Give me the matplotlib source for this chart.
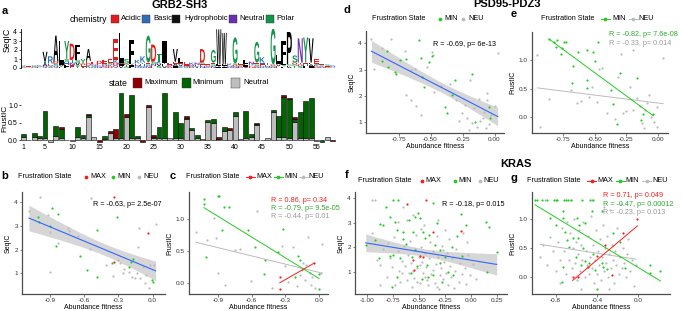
import numpy as np
import matplotlib
matplotlib.use('Agg')
import matplotlib.pyplot as plt
from matplotlib.textpath import TextPath
from matplotlib.patches import PathPatch, Rectangle
from matplotlib.font_manager import FontProperties
from matplotlib.lines import Line2D
import matplotlib.transforms as mtransforms

plt.rcParams['font.family'] = ['Liberation Sans', 'DejaVu Sans']

# ---------------- data: panel a ----------------
logo_top = "GESKVRALYDFYAEDEEELSFKKGDTIEVLEKNDEGWWKGELNGKTGLFPSNYVEESK"
logo_total = [0.3, 0.2, 0.3, 0.3, 1.8, 1.3, 3.6, 3.0, 3.0, 2.7,
              2.6, 1.0, 2.1, 0.7, 0.8, 0.9, 1.0, 3.2, 3.9, 1.0,
              3.1, 0.9, 1.3, 3.6, 2.6, 1.6, 3.0, 0.6, 2.1, 1.1,
              0.7, 0.6, 0.6, 2.1, 0.5, 2.0, 4.3, 3.9, 0.5, 3.4,
              0.6, 0.9, 0.7, 2.9, 1.2, 0.6, 4.4, 1.4, 3.0, 4.0,
              1.4, 3.3, 3.4, 3.3, 1.0, 0.5, 0.4, 0.3]
logo_top_h = [0.1, 0.08, 0.1, 0.1, 1.1, 0.8, 2.9, 2.5, 2.0, 1.8,
              1.7, 0.5, 1.3, 0.3, 0.35, 0.4, 0.45, 2.3, 3.3, 0.5,
              2.6, 0.4, 0.7, 3.0, 1.9, 0.9, 2.4, 0.25, 1.4, 0.5,
              0.3, 0.25, 0.25, 1.5, 0.2, 1.4, 3.9, 3.5, 0.2, 2.9,
              0.25, 0.45, 0.3, 2.3, 0.6, 0.25, 4.0, 0.8, 2.5, 3.6,
              0.8, 2.7, 2.8, 2.7, 0.5, 0.2, 0.15, 0.1]
logo_sub = ["SDK", "TRE", "NGD", "EKS", "QAT", "SQE", "QSD", "FVI", "FHS", "ENT",
            "YVS", "TED", "KDE", "RSN", "NKE", "QDR", "DKS", "QDK", "VIM", "GTD",
            "LIY", "RNE", "RHT", "NSE", "ENS", "SVK", "VLT", "DKN", "IAE", "KVE",
            "SNE", "DRN", "TKE", "NES", "KSD", "NSE", "FYL", "FYL", "RNE", "NDS",
            "DKS", "VIE", "DEK", "DSE", "REH", "SNE", "NSD", "EVI", "LYI", "ALS",
            "TGD", "SDT", "FHE", "IAL", "DKS", "NKS", "DGE", "REN"]
frust_neu = [0.10, 0.01, 0.10, 0.05, 0.05, -0.06, 0.12, 0.07, 0.01, -0.02,
             0.10, 0.05, 0.67, 0.08, 0.0, 0.03, 0.19, 0.05, 0.05, 0.67,
             0.05, 0.06, 0.0, 0.95, 0.05, 0.05, 0.05, 0.05, 0.05, 0.05,
             0.59, 0.29, 0.05, 0.02, 0.52, 0.48, 0.04, 0.26, 0.28, 0.70,
             0.02, 0.05, 0.10, 0.43, 0.01, 0.06, 0.79, 0.10, 0.10, 0.05,
             0.52, 0.05, 0.05, 0.05, -0.02, 0.0, 0.10, 0.0]
frust_min = [0.06, 0.0, 0.09, 0.07, 0.78, 0.0, 0.29, 0.24, 0.0, 0.0,
             0.26, 0.08, 0.04, 0.0, 0.0, 0.08, 0.0, 0.0, 1.28, 0.0,
             1.23, 0.06, 0.0, 0.0, 0.05, 0.33, 1.28, 0.0, 0.76, 0.43,
             0.04, 0.06, 0.09, 0.0, 0.05, 0.12, 0.0, 0.12, 0.0, 0.09,
             0.0, 0.78, 0.06, 0.03, 0.0, 0.0, 0.07, 0.60, 1.14, 1.11,
             0.08, 0.76, 1.06, 1.16, 0.0, -0.06, 0.0, 0.0]
frust_max = [0.0, 0.0, 0.0, 0.0, 0.0, 0.0, 0.0, 0.07, 0.0, 0.0,
             0.0, 0.0, 0.03, 0.0, -0.05, 0.0, 0.08, 0.26, 0.0, 0.06,
             0.0, 0.0, -0.07, 0.05, 0.05, 0.0, 0.0, 0.0, 0.0, 0.0,
             0.06, 0.0, 0.0, 0.0, 0.0, 0.0, 0.04, 0.0, 0.05, 0.0,
             0.0, 0.0, 0.0, 0.04, 0.0, 0.0, 0.0, 0.0, 0.06, 0.04,
             0.05, 0.0, 0.0, 0.0, 0.0, 0.0, 0.0, -0.02]
pos_ticks = [1, 5, 10, 15, 20, 25, 30, 35, 40, 45, 50, 55]

# ---------------- data: panel b (GRB2 SeqIC) ----------------
b_neu_x = [-1.089, -0.994, -0.921, -0.9, -0.906, -0.832, -0.744, -0.738, -0.655, -0.546, -0.552,
           -0.41, -0.351, -0.301, -0.286, -0.257, -0.204, -0.183, -0.153, -0.139, -0.124, -0.109,
           -0.115, -0.08, -0.065, -0.035, -0.021, 0.015, 0.027, -0.25, -0.06]
b_neu_y = [3.61, 4.24, 3.46, 2.76, 1.07, 2.27, 2.90, 2.80, 2.58, 4.17, 2.03,
           1.35, 0.89, 1.56, 1.42, 1.00, 1.07, 0.86, 0.79, 1.00, 2.13, 0.79,
           2.90, 1.28, 0.58, 0.37, 1.35, 1.35, 3.08, 1.20, 0.95]
b_min_x = [-1.009, -1.003, -0.885, -0.9, -0.832, -0.853, -0.64, -0.575, -0.487, -0.487, -0.316,
           -0.36, -0.204, -0.174, -0.192, -0.006, 0.0]
b_min_y = [3.37, 3.18, 3.75, 3.0, 3.49, 2.17, 1.73, 1.14, 2.83, 0.86, 3.39,
           1.42, 1.25, 1.59, 1.49, 0.72, 0.65]
b_max_x = [-0.339, -0.044, -0.339]
b_max_y = [4.24, 2.72, 1.49]

# ---------------- data: panel c (GRB2 FrustIC) ----------------
c_neu_x = [-1.1, -1.003, -0.935, -0.92, -0.9, -0.84, -0.549, -0.751, -0.706, -0.608, -0.424, -0.3,
           -0.232, -0.2, -0.127, -0.112, -0.098, -0.083, -0.074, -0.062, -0.038, 0.021, 0.027,
           -0.15, -0.17, -0.14, -0.33, -0.28]
c_neu_y = [0.80, 0.67, 1.01, 0.70, 0.16, -0.03, 1.12, 0.51, 0.53, 0.04, -0.08, 0.26,
           0.57, -0.05, 0.05, 0.28, 0.72, 0.16, -0.03, 0.10, -0.08, 0.16, 0.61,
           0.20, 0.12, 0.32, 0.58, 0.02]
c_min_x = [-1.027, -1.027, -0.9, -0.893, -0.849, -1.012, -0.869, -0.80, -0.638, -0.573, -0.484,
           -0.492, -0.32, -0.365, -0.192, -0.172, -0.21, 0.0, 0.0]
c_min_y = [1.31, 1.23, 1.35, 1.35, 1.19, 0.41, 0.82, 1.19, 0.83, 0.57, 0.36,
           0.14, 0.84, 0.48, 0.42, 0.36, 0.10, 0.14, -0.09]
c_max_x = [-0.35, -0.35, -0.045]
c_max_y = [0.10, -0.09, 0.31]

# ---------------- data: panel d (PSD95 SeqIC) ----------------
d_neu_x = [-0.962, -0.81, -0.944, -0.882, -0.70, -0.656, -0.624, -0.694, -0.656, -0.616, -0.576,
           -0.528, -0.49, -0.482, -0.47, -0.416, -0.19, -0.256, -0.23, -0.216, -0.176, -0.136,
           -0.11, -0.082, -0.07, -0.056, -0.03, 0.024, -0.3, -0.28, -0.16, -0.12, -0.09, -0.04,
           0.0, -0.35, -0.2, -0.06]
d_neu_y = [4.15, 4.16, 3.01, 3.81, 3.72, 2.98, 3.02, 2.03, 1.84, 1.62, 1.27,
           3.11, 3.68, 3.56, 2.16, 2.38, 2.60, 1.34, 1.65, 1.15, 0.96, 0.83,
           1.06, 1.40, 0.77, 1.84, 1.27, 3.62, 1.85, 1.05, 1.55, 1.90, 1.15, 0.95,
           1.60, 2.45, 0.70, 2.10]
d_min_x = [-0.83, -0.842, -0.882, -0.776, -0.77, -0.736, -0.696, -0.59, -0.576, -0.568, -0.554,
           -0.51, -0.49, -0.39, -0.368, -0.336, -0.31, -0.176, -0.042, -0.038, -0.15]
d_min_y = [3.11, 3.71, 3.33, 2.92, 2.85, 3.36, 3.39, 4.13, 3.43, 2.73, 2.35,
           3.30, 3.53, 1.59, 1.34, 2.03, 2.60, 2.83, 1.57, 1.15, 1.02]

# ---------------- data: panel e (PSD95 FrustIC) ----------------
e_min_x = [-0.865, -0.825, -0.804, -0.81, -0.764, -0.746, -0.73, -0.772, -0.677, -0.632, -0.566,
           -0.513, -0.50, -0.478, -0.561, -0.682, -0.566, -0.37, -0.359, -0.327, -0.301, -0.169,
           -0.137, -0.116, -0.037]
e_min_y = [1.376, 1.33, 1.36, 1.245, 1.217, 1.316, 1.316, 1.116, 0.905, 1.146, 1.175,
           1.146, 0.993, 1.323, 0.658, 0.60, 0.511, 0.48, 0.235, -0.118, 0.776, 0.688,
           -0.048, 0.058, 0.058]
e_neu_x = [-0.958, -0.936, -0.865, -0.688, -0.645, -0.613, -0.526, -0.486, -0.468, -0.447, -0.407,
           -0.341, -0.315, -0.296, -0.275, -0.222, -0.20, -0.196, -0.164, -0.143, -0.129, -0.111,
           -0.103, -0.069, -0.058, -0.031, -0.01, -0.005, 0.042, -0.25, -0.09, -0.55]
e_neu_y = [1.099, -0.166, 0.323, 0.482, 0.258, 0.293, 0.529, 0.264, 0.847, 0.86, 0.07,
           -0.035, 0.705, 1.116, 0.07, 0.529, 0.129, 1.187, 0.335, 0.199, -0.106, -0.194,
           0.129, 0.393, 0.0, -0.078, 0.176, -0.176, 1.04, 0.12, 0.25, 0.35]

# ---------------- data: panel f (KRAS SeqIC) ----------------
f_neu_x = [-0.955, -0.923, -0.65, -0.618, -0.795, -0.907, -0.875, -0.81, -0.73, -0.666, -0.618,
           -0.57, -0.522, -0.49, -0.442, -0.41, -0.362, -0.33, -0.30, -0.266, -0.314, -0.25,
           -0.041, -0.85, -0.78, -0.76, -0.74, -0.70, -0.69, -0.68, -0.66, -0.64, -0.63, -0.61,
           -0.60, -0.59, -0.58, -0.56, -0.55, -0.54, -0.53, -0.52, -0.50, -0.49, -0.48, -0.47,
           -0.46, -0.45, -0.44, -0.43, -0.42, -0.40, -0.39, -0.38, -0.37, -0.35, -0.34, -0.33,
           -0.32, -0.31, -0.29, -0.28, -0.27, -0.26, -0.24, -0.23, -0.22, -0.21, -0.20, -0.19,
           -0.18, -0.16, -0.15, -0.14, -0.12, -0.11, -0.09, -0.08, -0.06, -0.05, -0.03, -0.01,
           0.02, 0.05, -0.70, -0.56, -0.48, -0.87, -0.95]
f_neu_y = [3.93, 3.93, 3.66, 3.11, 2.16, 1.48, 1.28, 0.80, 0.46, 0.93, 0.66,
           0.39, 0.60, 1.27, 0.80, 0.46, 1.07, 0.39, 0.87, 1.89, 3.11, 2.70,
           2.23, 1.95, 1.55, 1.20, 2.40, 1.85, 1.05, 0.60, 1.45, 2.05, 1.25, 1.70,
           0.95, 2.25, 1.35, 1.05, 0.75, 1.95, 2.50, 1.15, 1.60, 0.55, 2.00, 1.40,
           0.95, 2.90, 1.75, 1.20, 0.65, 1.55, 2.20, 0.90, 1.85, 0.55, 1.30, 2.45,
           1.60, 0.30, 1.15, 2.05, 0.70, 1.40, 0.95, 1.75, 0.45, 2.35, 1.25, 0.80,
           1.55, 0.35, 1.05, 1.95, 0.60, 1.35, 0.90, 2.60, 1.15, 0.50, 1.70, 0.85,
           1.30, 0.70, 3.05, 3.30, 2.75, 0.45, 2.60]
f_min_x = [-1.012, -0.923, -0.875, -0.843, -0.82, -0.779, -0.747, -0.699, -0.731, -0.715, -0.657,
           -0.65, -0.779, -0.75, -0.715, -0.763, -0.555, -0.538, -0.57, -0.507, -0.49, -0.458,
           -0.442, -0.426, -0.362, -0.346, -0.30, -0.30, -0.362, -0.41, 0.144, 0.176, 0.247,
           0.157, -0.09, -0.184, -0.60, -0.62, -0.52, -0.47, -0.25, -0.22, -0.13, -0.10, -0.68,
           -0.58, -0.40, -0.28, -0.05, -0.88, -0.54, -0.33, -0.17]
f_min_y = [2.09, 2.30, 2.95, 2.91, 3.63, 3.25, 3.93, 3.93, 3.05, 2.71, 2.64,
           2.33, 1.64, 1.70, 0.80, 0.39, 2.64, 1.89, 1.61, 3.39, 3.18, 2.64,
           2.36, 1.27, 3.80, 2.09, 1.89, 1.34, 0.87, 0.80, 3.05, 2.82, 1.80,
           1.00, 1.64, 2.00, 3.10, 2.15, 1.25, 0.72, 1.60, 1.00, 2.45, 3.35, 1.55,
           0.95, 2.50, 0.60, 2.90, 1.58, 3.25, 3.00, 0.85]
f_max_x = [-0.618, -0.433, -0.362, -0.555, -0.55, -0.49, -0.458, -0.10]
f_max_y = [3.77, 3.93, 2.64, 1.48, 1.07, 1.64, 1.61, 2.65]

# ---------------- data: panel g (KRAS FrustIC) ----------------
g_neu_x = [-0.855, -0.887, -0.758, -0.95, -0.92, -0.83, -0.80, -0.78, -0.76, -0.74, -0.72,
           -0.70, -0.69, -0.67, -0.66, -0.64, -0.63, -0.62, -0.61, -0.60, -0.59, -0.58,
           -0.57, -0.56, -0.55, -0.54, -0.53, -0.52, -0.51, -0.50, -0.49, -0.48, -0.47,
           -0.46, -0.45, -0.44, -0.43, -0.42, -0.41, -0.40, -0.39, -0.38, -0.37, -0.36,
           -0.35, -0.34, -0.33, -0.32, -0.31, -0.30, -0.29, -0.28, -0.27, -0.26, -0.25,
           -0.24, -0.23, -0.22, -0.21, -0.20, -0.19, -0.18, -0.17, -0.16, -0.15, -0.14,
           -0.12, -0.11, -0.10, -0.08, -0.06, -0.04, -0.02, -0.65, -0.45, -0.90, -0.33,
           -0.55, -0.28]
g_neu_y = [0.69, 0.21, -0.10, 0.35, 0.55, 0.45, 0.10, 0.60, 0.30, 0.85, 0.45,
           0.05, 0.95, 0.30, 0.75, 0.15, 0.50, 1.00, 0.25, 0.60, -0.05, 0.40,
           0.80, 0.10, 0.55, 0.30, 0.95, 0.00, 0.45, 0.20, 0.70, 0.05, 0.35,
           1.05, 0.15, 0.55, -0.10, 0.30, 0.80, 0.05, 0.45, 0.20, 0.65, -0.05,
           0.35, 0.90, 0.10, 0.50, 0.25, 0.70, 0.00, 0.40, 1.15, 0.15, 0.55,
           0.30, -0.10, 0.45, 0.20, 0.85, 0.05, 0.35, 1.25, 0.15, 0.50, 0.25,
           0.00, 0.40, 0.65, 0.10, 0.30, -0.15, 0.20, 1.33, 1.33, 1.33, 1.20,
           -0.20, -0.20]
g_min_x = [-1.0, -0.977, -0.935, -0.887, -0.813, -0.797, -0.784, -0.716, -0.70, -0.677, -0.654,
           -0.548, -0.468, -0.436, -0.855, -0.797, -0.726, -0.71, -0.693, -0.671, -0.726, -0.597,
           -0.571, -0.581, -0.63, -0.516, -0.532, -0.726, -0.736, -0.516, -0.451, -0.354, -0.436,
           -0.354, -0.338, -0.306, -0.403, -0.242, -0.177, -0.129, 0.113, 0.12, 0.217, -0.48,
           -0.42, -0.60, -0.55]
g_min_y = [1.33, 1.33, 1.33, 1.33, 1.33, 1.33, 1.33, 1.33, 1.33, 1.33, 1.33,
           1.33, 1.33, 1.33, 1.01, 0.90, 1.14, 0.78, 0.64, 0.52, 1.01, 1.02,
           0.90, 0.67, 0.67, 0.93, 0.50, 0.18, -0.09, 0.27, 1.14, 1.13, 0.39,
           0.24, 0.18, 0.14, -0.21, 0.75, 0.61, 0.15, 0.21, 0.07, 0.10, 0.25,
           0.12, 0.35, 0.20]
g_max_x = [-0.635, -0.581, -0.484, -0.403, -0.252, -0.32, -0.15, -0.006]
g_max_y = [0.0, 0.0, 0.18, 0.37, 0.04, 0.55, 0.75, 1.0]

# ---------------- style ----------------
CHEM = {'D': '#E41A1C', 'E': '#E41A1C', 'K': '#2F6DB5', 'R': '#2F6DB5', 'H': '#2F6DB5',
        'Q': '#6A2FB0', 'N': '#6A2FB0', 'G': '#109648', 'S': '#109648', 'T': '#109648',
        'Y': '#109648', 'C': '#109648'}
COL_MAX = '#FF1A1A'
COL_MIN = '#22CC22'
COL_NEU = '#BBBBBB'
TXT_GREEN = '#2DAA2D'
TXT_GRAY = '#9A9A9A'
BAR_NEU = '#BEBEBE'
BAR_MIN = '#006400'
BAR_MAX = '#8B0000'
AXC = '#4D4D4D'

W, H = 683, 311
fig = plt.figure(figsize=(W / 100, H / 100), dpi=100)


def add_ax(l, t, r, b):
    return fig.add_axes([l / W, 1 - b / H, (r - l) / W, (b - t) / H])


def ftext(x, y, s, **kw):
    kw.setdefault('va', 'center')
    return fig.text(x / W, 1 - y / H, s, **kw)


def fbox(x, y, w, h, color):
    fig.add_artist(Rectangle((x / W, 1 - (y + h / 2) / H), w / W, h / H,
                             transform=fig.transFigure, facecolor=color,
                             edgecolor='#333333', linewidth=0.3))


fp = FontProperties(family='Liberation Sans', weight='bold')


def draw_letter(ax, ch, x, y0, h, color, width=0.92):
    if h <= 0:
        return
    tp = TextPath((0, 0), ch, size=1, prop=fp)
    bb = tp.get_extents()
    t = (mtransforms.Affine2D().translate(-bb.x0, -bb.y0)
         .scale(width / bb.width, h / bb.height).translate(x - width / 2, y0))
    ax.add_patch(PathPatch(t.transform_path(tp), facecolor=color, edgecolor='none'))


def px2x(p):
    return 23.3 + (p - 1) * 5.43


# ---------------- panel a: logo ----------------
npos = len(logo_top)
axl = add_ax(px2x(0.5), 68 - 4.32 * 9, px2x(npos + 0.5), 68)
for i in range(npos):
    p = i + 1
    sub = logo_sub[i]
    sub_h = logo_total[i] - logo_top_h[i]
    y0 = 0.0
    for ch in sub:
        hh = sub_h / len(sub)
        draw_letter(axl, ch, p, y0, hh, CHEM.get(ch, '#000000'))
        y0 += hh
    ch = logo_top[i]
    draw_letter(axl, ch, p, y0, logo_top_h[i], CHEM.get(ch, '#000000'))
axl.set_xlim(0.5, npos + 0.5)
axl.set_ylim(0, 4.32)
axl.set_yticks([0, 1, 2, 3, 4])
axl.set_xticks([])
for s in ['top', 'right', 'bottom']:
    axl.spines[s].set_visible(False)
axl.spines['left'].set_linewidth(0.6)
axl.tick_params(axis='y', labelsize=5, length=1.5, width=0.5, pad=1)
ftext(7, 40, 'SeqIC', fontsize=6.3, rotation=90, ha='center')

# chemistry legend
ftext(70, 19, 'chemistry', fontsize=6.3, ha='left')
for bx, tx, lab, col in [(111, 121, 'Acidic', '#E41A1C'), (142, 153, 'Basic', '#2F6DB5'),
                         (172, 184, 'Hydrophobic', '#111111'), (229, 239, 'Neutral', '#6A2FB0'),
                         (266, 276, 'Polar', '#109648')]:
    fbox(bx, 19, 8, 8, col)
    ftext(tx, 19, lab, fontsize=5.6, ha='left')

# ---------------- panel a: frustration bars ----------------
axb = add_ax(px2x(0.5), 140 - 1.4 * 35, px2x(npos + 0.5), 140 + 0.08 * 35)
posarr = np.arange(1, npos + 1)
pb = np.zeros(npos)
nb = np.zeros(npos)
for vals, col in [(frust_neu, BAR_NEU), (frust_min, BAR_MIN), (frust_max, BAR_MAX)]:
    v = np.array(vals, dtype=float)
    m = v != 0
    bottoms = np.where(v >= 0, pb, nb)
    axb.bar(posarr[m], v[m], bottom=bottoms[m], width=0.9, color=col,
            edgecolor='black', linewidth=0.4)
    pb += np.where(v > 0, v, 0)
    nb += np.where(v < 0, v, 0)
axb.set_xlim(0.5, npos + 0.5)
axb.set_ylim(-0.08, 1.4)
axb.set_xticks(pos_ticks)
axb.set_yticks([0.0, 0.5, 1.0])
axb.set_yticklabels(['0.0', '0.5', '1.0'])
for s in axb.spines.values():
    s.set_visible(False)
axb.tick_params(axis='y', labelsize=5, length=1.5, width=0.5, pad=0.5)
axb.tick_params(axis='x', labelsize=5, length=0, pad=1)
ftext(5, 118, 'FrustIC', fontsize=6.0, rotation=90, ha='center')

ftext(109, 83, 'state', fontsize=6.3, ha='left')
for bx, tx, lab, col in [(133, 144, 'Maximum', BAR_MAX), (182, 192, 'Minimum', BAR_MIN),
                         (231, 243, 'Neutral', BAR_NEU)]:
    fbox(bx, 83, 9, 9, col)
    ftext(tx, 83, lab, fontsize=5.6, ha='left')


# ---------------- scatter helpers ----------------
def style(ax, xlim, ylim, xticks, xtl, yticks, ytl, ylabel):
    ax.set_xlim(*xlim)
    ax.set_ylim(*ylim)
    ax.set_xticks(xticks)
    ax.set_xticklabels(xtl)
    ax.set_yticks(yticks)
    ax.set_yticklabels(ytl)
    for s in ['top', 'right']:
        ax.spines[s].set_visible(False)
    for s in ['left', 'bottom']:
        ax.spines[s].set_color(AXC)
        ax.spines[s].set_linewidth(0.9)
    ax.tick_params(labelsize=4.6, length=1.8, width=0.5, color=AXC, labelcolor='#333333', pad=1.2)
    ax.set_xlabel('Abundance fitness', fontsize=5.0, labelpad=0.6)
    ax.set_ylabel(ylabel, fontsize=5.0, labelpad=2)


def pts(ax, x, y, col):
    ax.scatter(x, y, s=2.5, color=col, linewidths=0, zorder=3)


def smooth_ci(ax, xs, ys):
    x = np.array(xs)
    y = np.array(ys)
    n = len(x)
    b1, b0 = np.polyfit(x, y, 1)
    gx = np.linspace(x.min(), x.max(), 100)
    gy = b0 + b1 * gx
    res = y - (b0 + b1 * x)
    s = np.sqrt(np.sum(res ** 2) / (n - 2))
    sxx = np.sum((x - x.mean()) ** 2)
    se = s * np.sqrt(1.0 / n + (gx - x.mean()) ** 2 / sxx)
    ax.fill_between(gx, gy - 1.99 * se, gy + 1.99 * se, color='#999999', alpha=0.4,
                    linewidth=0, zorder=2)
    ax.plot(gx, gy, color='#3366FF', lw=0.8, zorder=4)


def group_line(ax, xs, ys, col):
    x = np.array(xs)
    y = np.array(ys)
    b1, b0 = np.polyfit(x, y, 1)
    gx = np.array([x.min(), x.max()])
    ax.plot(gx, b0 + b1 * gx, color=col, lw=0.7, zorder=4)


def legend_row(y, tx, items, line=False):
    ftext(tx, y, 'Frustration State', fontsize=5.2, ha='left')
    for cx, lx, lab, col in items:
        if line:
            fig.add_artist(Line2D([(cx - 4.5) / W, (cx + 4.5) / W], [1 - y / H, 1 - y / H],
                                  color=col, lw=0.7, transform=fig.transFigure))
        fig.add_artist(Line2D([cx / W], [1 - y / H], marker='o', ms=1.7, color=col,
                              lw=0, transform=fig.transFigure))
        ftext(lx, y, lab, fontsize=5.2, ha='left')


# ---------------- panel b ----------------
axb2 = add_ax(22, 192, 165, 294)
pts(axb2, b_neu_x, b_neu_y, COL_NEU)
smooth_ci(axb2, b_neu_x + b_min_x + b_max_x, b_neu_y + b_min_y + b_max_y)
pts(axb2, b_min_x, b_min_y, COL_MIN)
pts(axb2, b_max_x, b_max_y, COL_MAX)
style(axb2, (-1.15, 0.11), (0.13, 4.43), [-0.9, -0.6, -0.3, 0.0], ['-0.9', '-0.6', '-0.3', '0.0'],
      [1, 2, 3, 4], ['1', '2', '3', '4'], 'SeqIC')
ftext(93, 204, 'R = -0.63, p= 2.5e-07', fontsize=5.2, ha='left')
legend_row(177, 18, [(86, 90, 'MAX', COL_MAX), (113, 117, 'MIN', COL_MIN), (139, 143, 'NEU', COL_NEU)])

# ---------------- panel c ----------------
axc = add_ax(189, 192, 328, 294)
pts(axc, c_neu_x, c_neu_y, COL_NEU)
pts(axc, c_min_x, c_min_y, COL_MIN)
pts(axc, c_max_x, c_max_y, COL_MAX)
group_line(axc, c_neu_x, c_neu_y, COL_NEU)
group_line(axc, c_min_x, c_min_y, COL_MIN)
group_line(axc, c_max_x, c_max_y, COL_MAX)
style(axc, (-1.16, 0.08), (-0.17, 1.42), [-0.9, -0.6, -0.3, 0.0], ['-0.9', '-0.6', '-0.3', '0.0'],
      [0.0, 0.5, 1.0], ['0.0', '0.5', '1.0'], 'FrustIC')
ftext(271, 200, 'R = 0.86, p= 0.34', fontsize=5.2, ha='left', color=COL_MAX)
ftext(271, 208.5, 'R = -0.79, p= 9.5e-05', fontsize=5.2, ha='left', color=TXT_GREEN)
ftext(271, 217, 'R = -0.44, p= 0.01', fontsize=5.2, ha='left', color=TXT_GRAY)
legend_row(177, 186, [(250, 256, 'MAX', COL_MAX), (278, 284, 'MIN', COL_MIN), (303, 308, 'NEU', COL_NEU)],
           line=True)

# ---------------- panel d ----------------
axd = add_ax(366, 31, 504, 133.3)
pts(axd, d_neu_x, d_neu_y, COL_NEU)
smooth_ci(axd, d_neu_x + d_min_x, d_neu_y + d_min_y)
pts(axd, d_min_x, d_min_y, COL_MIN)
style(axd, (-1.005, 0.074), (0.58, 4.47), [-0.75, -0.5, -0.25, 0.0], ['-0.75', '-0.50', '-0.25', '0.00'],
      [1, 2, 3, 4], ['1', '2', '3', '4'], 'SeqIC')
ftext(433, 45, 'R = -0.69, p= 6e-13', fontsize=5.2, ha='left')
legend_row(19, 372, [(440, 444, 'MIN', COL_MIN), (463, 468, 'NEU', COL_NEU)])

# ---------------- panel e ----------------
axe = add_ax(532, 32, 668, 133.3)
pts(axe, e_neu_x, e_neu_y, COL_NEU)
pts(axe, e_min_x, e_min_y, COL_MIN)
group_line(axe, e_neu_x, e_neu_y, COL_NEU)
group_line(axe, e_min_x, e_min_y, COL_MIN)
style(axe, (-1.0, 0.08), (-0.28, 1.5), [-0.75, -0.5, -0.25, 0.0], ['-0.75', '-0.50', '-0.25', '0.00'],
      [0.0, 0.5, 1.0], ['0.0', '0.5', '1.0'], 'FrustIC')
ftext(609, 34.5, 'R = -0.82, p= 7.6e-08', fontsize=5.2, ha='left', color=TXT_GREEN)
ftext(609, 43.3, 'R = -0.33, p= 0.014', fontsize=5.2, ha='left', color=TXT_GRAY)
legend_row(19, 541, [(605, 612, 'MIN', COL_MIN), (633, 638, 'NEU', COL_NEU)], line=True)

# ---------------- panel f ----------------
axf = add_ax(355, 192, 507, 294)
pts(axf, f_neu_x, f_neu_y, COL_NEU)
smooth_ci(axf, f_neu_x + f_min_x + f_max_x, f_neu_y + f_min_y + f_max_y)
pts(axf, f_min_x, f_min_y, COL_MIN)
pts(axf, f_max_x, f_max_y, COL_MAX)
style(axf, (-1.115, 0.346), (0.09, 4.26), [-1.0, -0.75, -0.5, -0.25, 0.0, 0.25],
      ['-1.00', '-0.75', '-0.50', '-0.25', '0.00', '0.25'],
      [1, 2, 3, 4], ['1', '2', '3', '4'], 'SeqIC')
ftext(442, 205, 'R = -0.18, p= 0.015', fontsize=5.2, ha='left')
legend_row(181, 358, [(421.5, 425, 'MAX', COL_MAX), (455, 458, 'MIN', COL_MIN), (480, 483, 'NEU', COL_NEU)])

# ---------------- panel g ----------------
axg = add_ax(532, 192, 670, 294)
pts(axg, g_neu_x, g_neu_y, COL_NEU)
pts(axg, g_min_x, g_min_y, COL_MIN)
pts(axg, g_max_x, g_max_y, COL_MAX)
group_line(axg, g_neu_x, g_neu_y, COL_NEU)
group_line(axg, g_min_x, g_min_y, COL_MIN)
group_line(axg, g_max_x, g_max_y, COL_MAX)
style(axg, (-1.03, 0.31), (-0.29, 1.46), [-0.8, -0.4, 0.0], ['-0.8', '-0.4', '0.0'],
      [0.0, 0.5, 1.0], ['0.0', '0.5', '1.0'], 'FrustIC')
ftext(603, 195.7, 'R = 0.71, p= 0.049', fontsize=5.2, ha='left', color=COL_MAX)
ftext(603, 204, 'R = -0.47, p= 0.00012', fontsize=5.2, ha='left', color=TXT_GREEN)
ftext(603, 212.3, 'R = -0.23, p= 0.013', fontsize=5.2, ha='left', color=TXT_GRAY)
legend_row(181, 527, [(591.5, 597, 'MAX', COL_MAX), (620, 625, 'MIN', COL_MIN), (646.5, 652, 'NEU', COL_NEU)],
           line=True)

# ---------------- titles and panel labels ----------------
ftext(180, 4.5, 'GRB2-SH3', fontsize=8, fontweight='bold', ha='center')
ftext(507, 4.0, 'PSD95-PDZ3', fontsize=8, fontweight='bold', ha='center')
ftext(516, 164, 'KRAS', fontsize=8, fontweight='bold', ha='center')
for lab, x, y in [('a', 5, 11), ('b', 5, 176), ('c', 173, 176), ('d', 347, 10),
                  ('e', 514, 14), ('f', 347, 175), ('g', 514, 178)]:
    ftext(x, y, lab, fontsize=8, fontweight='bold', ha='center')

fig.savefig('out.png', dpi=100)
